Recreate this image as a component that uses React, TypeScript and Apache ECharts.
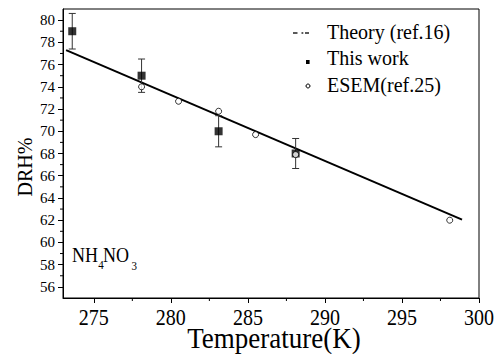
import React, { useEffect, useRef } from "react";
import * as echarts from "echarts";

// ---- data ----
const theoryT = [273.2, 298.9];
const theoryDRH = [77.3, 62.05];

const thisWorkT = [273.6, 278.1, 283.1, 288.1];
const thisWorkDRH = [79, 75, 70, 68];
const thisWorkErr = [1.6, 1.5, 1.4, 1.35];

const esemT = [278.1, 280.5, 283.1, 285.5, 288.1, 298.1];
const esemDRH = [74.0, 72.7, 71.8, 69.7, 67.9, 62.0];

const xMajor = [275, 280, 285, 290, 295, 300];
const xMinor = [277.5, 282.5, 287.5, 292.5, 297.5];
const yMajor = [56, 58, 60, 62, 64, 66, 68, 70, 72, 74, 76, 78, 80];
const yMinor = [57, 59, 61, 63, 65, 67, 69, 71, 73, 75, 77, 79];

const legendLabels = ["Theory (ref.16)", "This work", "ESEM(ref.25)"];
const xTitle = "Temperature(K)";
const yTitle = "DRH%";

const FONT = "Liberation Serif";
const X_MIN = 273;
const X_MAX = 300;
const Y_MIN = 55;
const Y_MAX = 81;

export default function App() {
  const ref = useRef<HTMLDivElement>(null);

  useEffect(() => {
    if (!ref.current) return;
    const chart = echarts.init(ref.current, null, { renderer: "svg" });

    // minor ticks, placed through the axes' scales
    const minorTickData = [
      ...xMinor.map((v) => [v, Y_MIN, 0]),
      ...yMinor.map((v) => [X_MIN, v, 1]),
    ];
    // tick labels, placed through the axes' scales
    const tickLabelData = [
      ...xMajor.map((v) => [v, Y_MIN, 0]),
      ...yMajor.map((v) => [X_MIN, v, 1]),
    ];

    const option: any = {
      animation: false,
      backgroundColor: "#fff",
      textStyle: { fontFamily: FONT, color: "#000" },
      grid: {
        left: 63,
        right: 17,
        top: 9,
        bottom: 56,
        show: true,
        borderColor: "#000",
        borderWidth: 1,
        backgroundColor: "transparent",
      },
      xAxis: {
        type: "value",
        min: X_MIN,
        max: X_MAX,
        position: "bottom",
        splitLine: { show: false },
        axisLine: { show: true, lineStyle: { color: "#000", width: 1 } },
        axisTick: {
          show: true,
          inside: false,
          length: 5,
          customValues: xMajor,
          lineStyle: { color: "#000", width: 1 },
        },
        axisLabel: { show: false },
      },
      yAxis: {
        type: "value",
        min: Y_MIN,
        max: Y_MAX,
        position: "left",
        splitLine: { show: false },
        axisLine: { show: true, lineStyle: { color: "#000", width: 1 } },
        axisTick: {
          show: true,
          inside: false,
          length: 5,
          customValues: yMajor,
          lineStyle: { color: "#000", width: 1 },
        },
        axisLabel: { show: false },
      },
      series: [
        {
          name: "minorTicks",
          type: "custom",
          clip: false,
          silent: true,
          data: minorTickData,
          renderItem: (params: any, api: any) => {
            const p = api.coord([api.value(0), api.value(1)]);
            const isY = api.value(2) === 1;
            const style = { stroke: "#000", lineWidth: 1 };
            return isY
              ? { type: "line", shape: { x1: p[0] - 3, y1: p[1], x2: p[0], y2: p[1] }, style }
              : { type: "line", shape: { x1: p[0], y1: p[1], x2: p[0], y2: p[1] + 3 }, style };
          },
          z: 1,
        },
        {
          name: "tickLabels",
          type: "custom",
          clip: false,
          silent: true,
          data: tickLabelData,
          renderItem: (params: any, api: any) => {
            const isY = api.value(2) === 1;
            const v = isY ? api.value(1) : api.value(0);
            const p = api.coord([api.value(0), api.value(1)]);
            return isY
              ? {
                  type: "text",
                  x: p[0] - 8,
                  y: p[1],
                  style: {
                    text: String(v),
                    fill: "#000",
                    fontSize: 15,
                    fontFamily: FONT,
                    align: "right",
                    verticalAlign: "middle",
                    textAlign: "right",
                    textVerticalAlign: "middle",
                  },
                }
              : {
                  type: "text",
                  x: p[0],
                  y: p[1] + 19.5,
                  scaleY: 1.15,
                  style: {
                    text: String(v),
                    fill: "#000",
                    fontSize: 20,
                    fontFamily: FONT,
                    align: "center",
                    verticalAlign: "middle",
                    textAlign: "center",
                    textVerticalAlign: "middle",
                  },
                };
          },
          z: 1,
        },
        {
          name: legendLabels[0],
          type: "line",
          data: theoryT.map((t, i) => [t, theoryDRH[i]]),
          showSymbol: false,
          symbol: "none",
          lineStyle: { color: "#000", width: 2 },
          z: 2,
        },
        {
          name: "errorbars",
          type: "custom",
          data: thisWorkT.map((t, i) => [
            t,
            thisWorkDRH[i] - thisWorkErr[i],
            thisWorkDRH[i] + thisWorkErr[i],
          ]),
          encode: { x: 0, y: [1, 2] },
          renderItem: (params: any, api: any) => {
            const x = api.value(0);
            const lo = api.coord([x, api.value(1)]);
            const hi = api.coord([x, api.value(2)]);
            const hw = 3.5;
            const style = { stroke: "#333", lineWidth: 1 };
            return {
              type: "group",
              children: [
                { type: "line", shape: { x1: lo[0], y1: lo[1], x2: hi[0], y2: hi[1] }, style },
                { type: "line", shape: { x1: lo[0] - hw, y1: lo[1], x2: lo[0] + hw, y2: lo[1] }, style },
                { type: "line", shape: { x1: hi[0] - hw, y1: hi[1], x2: hi[0] + hw, y2: hi[1] }, style },
              ],
            };
          },
          z: 3,
        },
        {
          name: legendLabels[1],
          type: "scatter",
          data: thisWorkT.map((t, i) => [t, thisWorkDRH[i]]),
          symbol: "rect",
          symbolSize: 8,
          itemStyle: { color: "#000" },
          z: 4,
        },
        {
          name: legendLabels[2],
          type: "scatter",
          data: esemT.map((t, i) => [t, esemDRH[i]]),
          symbol: "circle",
          symbolSize: 6,
          itemStyle: { color: "#fff", borderColor: "#000", borderWidth: 1 },
          z: 5,
        },
      ],
      graphic: [
        // axis titles
        {
          type: "text",
          x: 274,
          y: 338,
          scaleY: 1.1,
          style: { text: xTitle, fill: "#000", font: `27px ${FONT}`, textAlign: "center", textVerticalAlign: "middle" },
        },
        {
          type: "text",
          x: 24.5,
          y: 167,
          rotation: Math.PI / 2,
          style: { text: yTitle, fill: "#000", font: `20px ${FONT}`, textAlign: "center", textVerticalAlign: "middle" },
        },
        // legend symbols
        { type: "line", shape: { x1: 293, y1: 33, x2: 297.5, y2: 33 }, style: { stroke: "#000", lineWidth: 1.3 } },
        { type: "line", shape: { x1: 301.5, y1: 33, x2: 303.3, y2: 33 }, style: { stroke: "#000", lineWidth: 1.3 } },
        { type: "line", shape: { x1: 305, y1: 33, x2: 309, y2: 33 }, style: { stroke: "#000", lineWidth: 1.3 } },
        { type: "rect", shape: { x: 306, y: 60, width: 3.6, height: 4 }, style: { fill: "#000" } },
        { type: "circle", shape: { cx: 308, cy: 86, r: 2 }, style: { fill: "#fff", stroke: "#000", lineWidth: 1 } },
        // legend texts
        ...legendLabels.map((label, i) => ({
          type: "text",
          x: 327,
          y: [32, 58, 85][i],
          style: {
            text: label,
            fill: "#000",
            font: `20px ${FONT}`,
            textAlign: "left",
            textVerticalAlign: "middle",
          },
        })),
        // NH4NO3 label
        {
          type: "text",
          x: 72,
          y: 254,
          scaleY: 1.2,
          style: { text: "NH", fill: "#000", font: `18px ${FONT}`, textAlign: "left", textVerticalAlign: "middle" },
        },
        {
          type: "text",
          x: 98.3,
          y: 264.5,
          scaleY: 1.2,
          style: { text: "4", fill: "#000", font: `11px ${FONT}`, textAlign: "left", textVerticalAlign: "middle" },
        },
        {
          type: "text",
          x: 103,
          y: 254,
          scaleY: 1.2,
          style: { text: "NO", fill: "#000", font: `18px ${FONT}`, textAlign: "left", textVerticalAlign: "middle" },
        },
        {
          type: "text",
          x: 131.5,
          y: 266,
          scaleY: 1.2,
          style: { text: "3", fill: "#000", font: `11px ${FONT}`, textAlign: "left", textVerticalAlign: "middle" },
        },
      ],
    };

    chart.setOption(option);
    return () => chart.dispose();
  }, []);

  return <div ref={ref} style={{ width: 496, height: 354, position: "absolute", left: 0, top: 0 }} />;
}
